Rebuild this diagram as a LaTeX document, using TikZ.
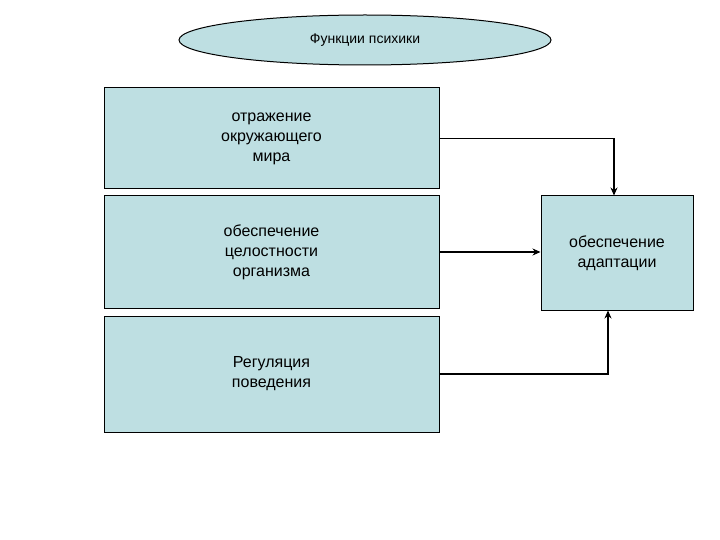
\documentclass[tikz,border=0pt]{standalone}
\usepackage{fontspec}
\setmainfont{Liberation Sans}
\usetikzlibrary{shapes.geometric,arrows.meta}
\definecolor{boxfill}{HTML}{BEDFE2}
\tikzset{box/.style={draw=black,line width=1pt,fill=boxfill,align=center,font=\fontsize{16}{20}\selectfont,inner sep=0pt},
arr/.style={draw=black,line width=1.3pt,-{Stealth[length=8pt,width=7pt]}}}
\begin{document}
\begin{tikzpicture}[x=1pt,y=-1pt]
\useasboundingbox (0,0) rectangle (720,540);
\node[box,ellipse,minimum width=372pt,minimum height=50pt,font=\fontsize{14}{17}\selectfont] (f) at (365,40) {Функции психики};
\node[box,minimum width=335pt,minimum height=101pt] (a) at (271.5,138.5) {отражение\\окружающего\\мира};
\node[box,minimum width=335pt,minimum height=112pt] (b) at (271.5,252) {обеспечение\\целостности\\организма};
\node[box,minimum width=335pt,minimum height=116pt] (c) at (271.5,374) {Регуляция\\поведения};
\node[box,minimum width=152pt,minimum height=114pt] (d) at (617,253) {обеспечение\\адаптации};
\draw[arr] (a.east) -| ([xshift=-3pt]d.north);
\draw[arr] (b.east) -- (b.east -| d.west);
\draw[arr] (c.east) -| ([xshift=-9pt]d.south);
\end{tikzpicture}
\end{document}
